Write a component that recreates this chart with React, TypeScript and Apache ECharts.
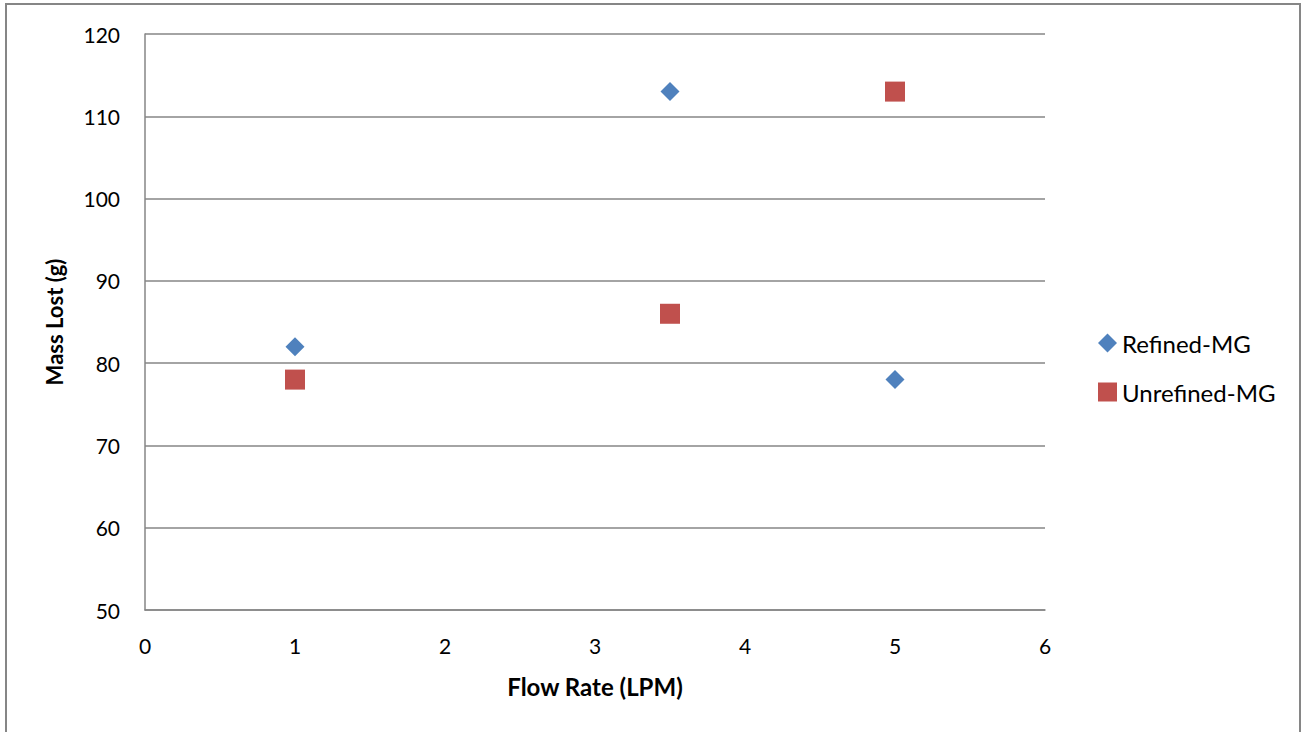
import React, { useEffect, useRef } from "react";
import * as echarts from "echarts";

const refinedX = [1, 3.5, 5];
const refinedY = [82, 113, 78];
const unrefinedX = [1, 3.5, 5];
const unrefinedY = [78, 86, 113];
const seriesNames = ["Refined-MG", "Unrefined-MG"];
const xTitle = "Flow Rate (LPM)";
const yTitle = "Mass Lost (g)";

const FONT = "Lato, 'Open Sans', sans-serif";
const GRAY = "#868686";

export default function App() {
  const ref = useRef<HTMLDivElement>(null);
  useEffect(() => {
    if (!ref.current) return;
    const chart = echarts.init(ref.current, null, { renderer: "svg" });
    chart.setOption({
      animation: false,
      backgroundColor: "#ffffff",
      textStyle: { fontFamily: FONT },
      graphic: [
        {
          type: "rect",
          shape: { x: 6, y: 4, width: 1294, height: 740 },
          style: { fill: "none", stroke: GRAY, lineWidth: 2 },
          silent: true,
        },
      ],
      grid: { left: 145, top: 34, width: 900, height: 576, containLabel: false },
      legend: {
        orient: "vertical",
        left: 1093,
        top: 326,
        itemGap: 25,
        itemWidth: 19,
        itemHeight: 19,
        textStyle: { fontSize: 24, lineHeight: 24, color: "#000", fontFamily: FONT },
        data: seriesNames,
      },
      xAxis: {
        type: "value",
        min: 0,
        max: 6,
        interval: 1,
        name: xTitle,
        nameLocation: "middle",
        nameGap: 64,
        nameTextStyle: { fontSize: 24, fontWeight: "bold", color: "#000", fontFamily: FONT },
        axisLine: { show: true, lineStyle: { color: GRAY, width: 1.5 } },
        axisTick: { show: false },
        axisLabel: { fontSize: 21, color: "#000", margin: 25, fontFamily: FONT },
        splitLine: { show: false },
      },
      yAxis: {
        type: "value",
        min: 50,
        max: 120,
        interval: 10,
        name: yTitle,
        nameLocation: "middle",
        nameGap: 80,
        nameRotate: 90,
        nameTextStyle: { fontSize: 22, fontWeight: "bold", color: "#000", fontFamily: FONT },
        axisLine: { show: true, lineStyle: { color: GRAY, width: 1.5 } },
        axisTick: { show: false },
        axisLabel: { fontSize: 21, color: "#000", margin: 25, fontFamily: FONT },
        splitLine: { show: true, lineStyle: { color: GRAY, width: 1.5 } },
      },
      series: [
        {
          name: seriesNames[0],
          type: "scatter",
          symbol: "diamond",
          symbolSize: 19,
          itemStyle: { color: "#4F81BD", opacity: 1 },
          data: refinedX.map((x, i) => [x, refinedY[i]]),
        },
        {
          name: seriesNames[1],
          type: "scatter",
          symbol: "rect",
          symbolSize: 20,
          itemStyle: { color: "#C0504D", opacity: 1 },
          data: unrefinedX.map((x, i) => [x, unrefinedY[i]]),
        },
      ],
    });
    return () => chart.dispose();
  }, []);
  return (
    <div
      ref={ref}
      style={{ position: "fixed", left: 0, top: 0, width: 1302, height: 732 }}
    />
  );
}
